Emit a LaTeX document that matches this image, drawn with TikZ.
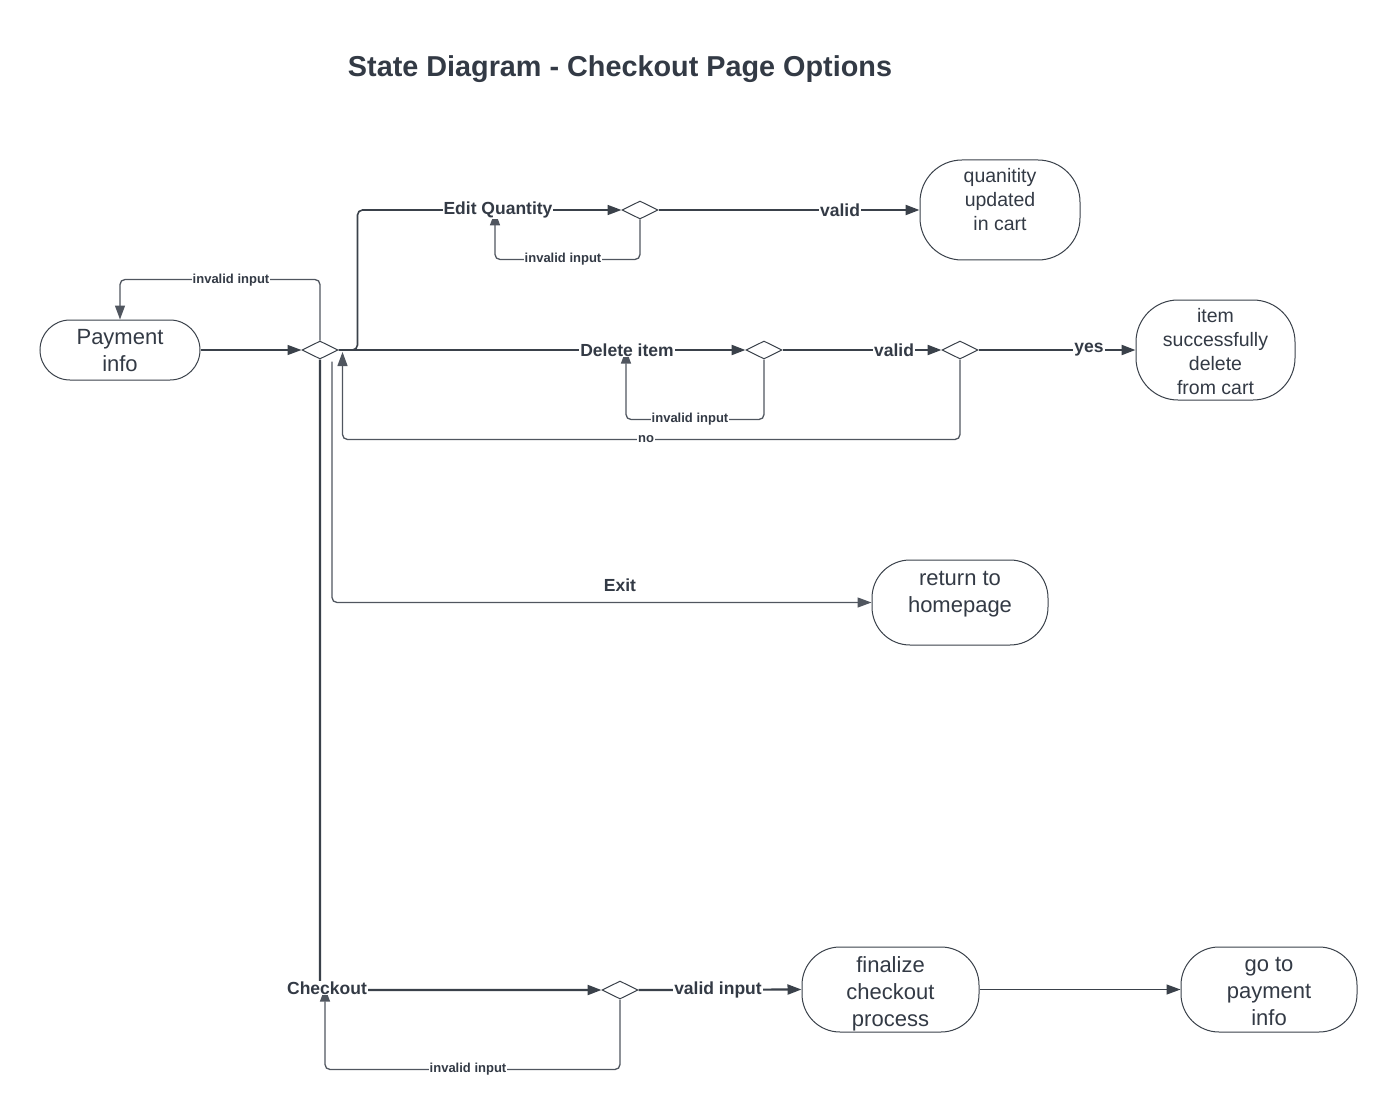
\documentclass[tikz,border=0pt]{standalone}
\usepackage{fontspec}
\setmainfont{Liberation Sans}
\usetikzlibrary{shapes.geometric,arrows.meta,calc}
\definecolor{ink}{HTML}{333A45}
\definecolor{linec}{HTML}{3A414A}
\definecolor{loopc}{HTML}{50565F}
\pgfdeclarelayer{bg}
\pgfsetlayers{bg,main}
\newcommand{\vshifttext}[2]{\raisebox{#1}[\height][\depth]{\begin{tabular}{@{}c@{}}#2\end{tabular}}}
\begin{document}
\begin{tikzpicture}[x=1pt,y=-1pt,
  state/.style={draw=linec, line width=1pt, fill=white, text=ink, align=center, inner sep=0pt,
    font=\fontsize{22}{27}\selectfont},
  dia/.style={draw=linec, line width=1pt, fill=white, diamond, aspect=2, inner sep=0pt,
    minimum width=36pt, minimum height=18pt},
  lab/.style={fill=white, text=ink, inner sep=1pt, font=\bfseries\fontsize{17.5}{20}\selectfont},
  slab/.style={fill=white, text=ink, inner sep=1pt, font=\bfseries\fontsize{13}{15}\selectfont},
  arr/.style={draw=linec, line width=2.2pt, rounded corners=5pt, -{Triangle[length=14pt,width=10pt]}},
  thinarr/.style={arr, line width=1.3pt},
  looparr/.style={draw=loopc, line width=1.3pt, rounded corners=5pt, -{Triangle[length=14pt,width=10pt]}}
]
\useasboundingbox (0,0) rectangle (1398,1118);

\node[text=ink, font=\bfseries\fontsize{28.8}{34}\selectfont] (title) at (620,69) {State Diagram - Checkout Page Options};

% states
\node[state, rounded corners=30pt, minimum width=160pt, minimum height=60pt] (pay) at (120,350)
  {\vshifttext{-3pt}{Payment\\info}};
\node[state, rounded corners=42pt, minimum width=160pt, minimum height=100pt,
  font=\fontsize{19.5}{24}\selectfont] (qty) at (1000,210) {\vshifttext{8pt}{quanitity\\updated\\in cart}};
\node[state, rounded corners=42pt, minimum width=159pt, minimum height=100pt,
  font=\fontsize{19.5}{24}\selectfont] (item) at (1215.5,350) {\vshifttext{-4pt}{item\\successfully\\delete\\from cart}};
\node[state, rounded corners=38pt, minimum width=176pt, minimum height=85pt] (home) at (960,602.5)
  {\vshifttext{9pt}{return to\\homepage}};
\node[state, rounded corners=38pt, minimum width=177pt, minimum height=85pt] (fin) at (890.5,989.5)
  {\vshifttext{-5pt}{finalize\\checkout\\process}};
\node[state, rounded corners=38pt, minimum width=176pt, minimum height=85pt] (goto) at (1269,989.5)
  {\vshifttext{-4pt}{go to\\payment\\info}};

% decisions
\node[dia] (d0) at (320,350) {};
\node[dia] (d1) at (640,210) {};
\node[dia] (d2) at (764,350) {};
\node[dia] (d3) at (960,350) {};
\node[dia] (d4) at (620,990) {};

% labels
\node[slab] (linv0) at (231,280) {invalid input};
\node[lab] (ledit) at (498,210) {Edit Quantity};
\node[slab] (linv1) at (563,259) {invalid input};
\node[lab] (lvalid1) at (840,210) {valid};
\node[lab] (ldel) at (627,350) {Delete item};
\node[lab] (lvalid2) at (894,350) {valid};
\node[lab] (lyes) at (1089,350) {yes};
\node[slab] (linv2) at (690,419) {invalid input};
\node[slab] (lno) at (646,439) {no};
\node[lab] (lexit) at (620,585) {Exit};
\node[lab] (lcheck) at (327,988) {Checkout};
\node[slab] (linv4) at (468,1069) {invalid input};
\node[lab] (lvin) at (718,990) {valid input};

\begin{pgfonlayer}{bg}
\draw[thinarr] (pay.east) -- (d0.west);
\draw[looparr] (d0.north) -- ++(0,-61) -| (pay.north);
\draw[thinarr, line width=1.6pt] (d0.east) -- ++(19,0) |- (d1.west);
\draw[arr] (d1.east) -- (qty.west);
\draw[looparr] (d1.south) -- ++(0,40) -| ($(ledit.south)+(-3,-8)$);
\draw[arr] (d0.east) -- (d2.west);
\draw[arr] (d2.east) -- (d3.west);
\draw[arr] (d3.east) -- (item.west);
\draw[looparr] (d2.south) -- ++(0,60) -| ($(ldel.south)+(-1,-8)$);
\draw[looparr] (d3.south) -- ++(0,80) -| ($(d0.east)+(4,2)$);
\draw[looparr] ($(d0.south)+(12,2)$) |- (home.west);
\draw[arr] (d0.south) |- (d4.west);
\draw[looparr] (d4.south) -- ++(0,70) -| ($(lcheck.south)+(-2,-8)$);
\draw[arr] (d4.east) -- (fin.west);
\draw[thinarr] (fin.east) -- (goto.west);
\end{pgfonlayer}
\end{tikzpicture}
\end{document}
